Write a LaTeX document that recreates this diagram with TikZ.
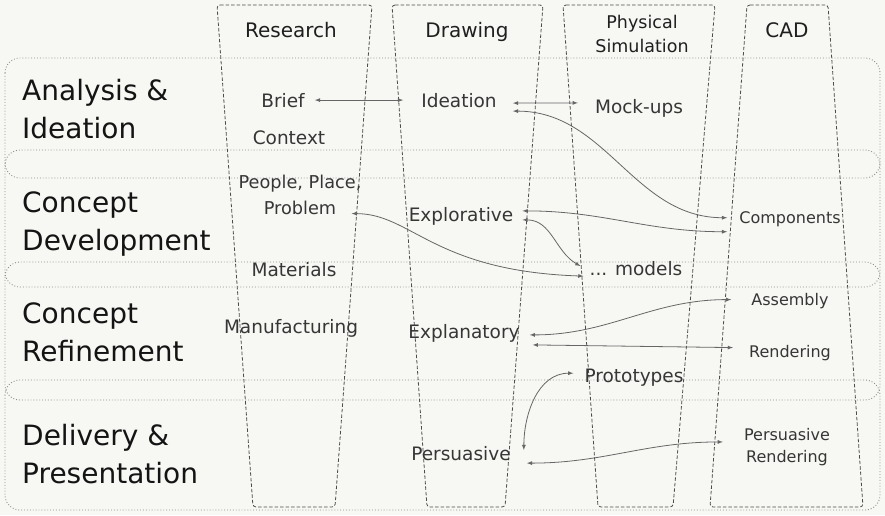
\documentclass[tikz,border=0pt]{standalone}
\usepackage{fontspec}
\setmainfont{DejaVu Sans}
\usepackage{xcolor}
\usepackage{tikz}
\usetikzlibrary{arrows}
\usetikzlibrary{arrows.meta}
\usetikzlibrary{positioning}
\definecolor{paper}{HTML}{F7F7F3}
\definecolor{ink}{HTML}{363636}
\definecolor{wire}{HTML}{666666}
\tikzset{>=latex}
\tikzstyle{phase} = [draw=black!45, dotted, line width=0.9pt, rounded corners=15pt]
\tikzstyle{lane} = [draw=black!70, dash pattern=on 3.5pt off 2pt, line width=0.8pt, rounded corners=3pt]
\tikzstyle{stage} = [anchor=north west, inner sep=0pt, align=left, text=black!92, font=\fontsize{28}{38}\selectfont]
\tikzstyle{head} = [anchor=base, inner sep=0pt, text=black!88, font=\fontsize{20}{24}\selectfont]
\tikzstyle{task} = [anchor=base, inner sep=0pt, text=ink, font=\fontsize{18.5}{26}\selectfont]
\tikzstyle{cadtask} = [anchor=base, inner sep=0pt, text=ink, font=\fontsize{16}{22}\selectfont]
\tikzstyle{link} = [<->, draw=wire, line width=0.8pt]

\begin{document}
\begin{tikzpicture}[x=1pt, y=-1pt]
\fill [paper] (0,0) rectangle (885,515);
\draw [phase] (5,58) rectangle (880,178);
\draw [phase] (5,150) rectangle (880,287);
\draw [phase] (5,262) rectangle (880,400);
\draw [phase] (5,380) rectangle (880,510);
\draw [lane] (217,5) -- (372,5) -- (335,507) -- (253,507) -- cycle;
\draw [lane] (392,5) -- (543,5) -- (505,507) -- (427,507) -- cycle;
\draw [lane] (563,5) -- (715,5) -- (673,507) -- (598,507) -- cycle;
\draw [lane] (747,5) -- (828,5) -- (863,507) -- (710,507) -- cycle;
\node [head] (research) at (291,37) {Research};
\node [head] (drawing) at (467,37) {Drawing};
\node [head, anchor=north, align=center, font=\fontsize{17.5}{24}\selectfont] (physical) at (642,14.7) {Physical\\Simulation};
\node [head] (cadhead) at (787,37) {CAD};
\node [stage] (analysis) at (22,78.7) {Analysis \&\\Ideation};
\node [stage] (development) at (22,192) {Concept\\Development};
\node [stage] (refinement) at (22,303) {Concept\\Refinement};
\node [stage] (delivery) at (22,423.7) {Delivery \&\\Presentation};
\node [task] (brief) at (283,107) {Brief};
\node [task] (context) at (289,144) {Context};
\node [task] (ideation) at (459,107) {Ideation};
\node [task] (mockups) at (639,113) {Mock-ups};
\node [task, anchor=north, align=center, font=\fontsize{17.7}{26}\selectfont] (people) at (300,174.5) {People, Place,\\Problem};
\node [task] (explorative) at (461,221) {Explorative};
\node [task] (materials) at (294,276) {Materials};
\node [task] (models) at (636,275) {... models};
\node [task] (manufacturing) at (291,333) {Manufacturing};
\node [task] (explanatory) at (464,338) {Explanatory};
\node [task] (prototypes) at (634,382) {Prototypes};
\node [task] (persuasive) at (461,460) {Persuasive};
\node [cadtask] (components) at (790,223) {Components};
\node [cadtask] (assembly) at (790,305) {Assembly};
\node [cadtask] (rendering) at (790,357) {Rendering};
\node [cadtask, anchor=north, align=center] (persrendering) at (787,428) {Persuasive\\Rendering};
\draw [link] ([xshift=10pt]brief.east) -- ([xshift=-18pt]ideation.west);
\draw [link] ([shift={(16,3)}]ideation.east) -- ([shift={(-17,-5)}]mockups.west);
\draw [link] ([shift={(16,11)}]ideation.east) to[out=0, in=180] ([shift={(-12,-1)}]components.west);
\draw [link] ([shift={(9,-5)}]explorative.east) to[out=0, in=180] ([shift={(-12,13)}]components.west);
\draw [link] ([shift={(9,4)}]explorative.east) to[out=0, in=150] ([shift={(-9,-2)}]models.west);
\draw [link] ([shift={(-10,-1)}]people.south east) .. controls +(60,0) and +(-150,-5) .. ([shift={(-6,8)}]models.west);
\draw [link] ([shift={(10,2)}]explanatory.east) to[out=0, in=180] ([shift={(-20,-1)}]assembly.west);
\draw [link] ([shift={(13,12)}]explanatory.east) -- ([shift={(-16,-5)}]rendering.west);
\draw [link] ([shift={(13,-3)}]persuasive.east) to[out=90, in=180] ([shift={(-11,-4)}]prototypes.west);
\draw [link] ([shift={(16,10)}]persuasive.east) to[out=0, in=180] ([shift={(-21,-5)}]persrendering.west);
\end{tikzpicture}
\end{document}
